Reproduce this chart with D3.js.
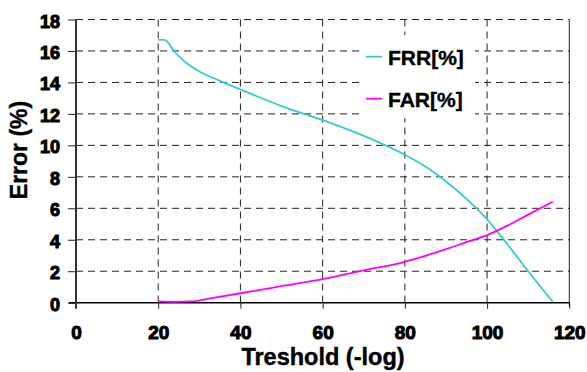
<!DOCTYPE html>
<html>
<head>
<meta charset="utf-8">
<script src="https://cdn.jsdelivr.net/npm/d3@7"></script>
<style>
  html, body { margin: 0; padding: 0; background: #fff; }
  svg { display: block; }
  svg text { font-family: "Liberation Sans", Arial, sans-serif; font-weight: bold; fill: #000; }
</style>
</head>
<body>
<svg id="chart" width="587" height="372"></svg>
<script>
// ---- data ----
const xTicks = [0, 20, 40, 60, 80, 100, 120];
const yTicks = [0, 2, 4, 6, 8, 10, 12, 14, 16, 18];
const frrX = [20, 21.5, 24, 27, 30, 35, 40, 50, 60, 70, 80, 85, 90, 95, 100, 105, 110, 116];
const frrY = [16.7, 16.7, 15.95, 15.2, 14.7, 14.1, 13.55, 12.5, 11.6, 10.6, 9.4, 8.65, 7.7, 6.6, 5.3, 3.7, 2.0, 0.05];
const farX = [20, 24, 28, 32, 40, 50, 60, 70, 80, 90, 95, 100, 105, 110, 116];
const farY = [0.08, 0.05, 0.08, 0.25, 0.6, 1.05, 1.5, 2.05, 2.6, 3.4, 3.85, 4.3, 4.9, 5.6, 6.42];
const seriesNames = ["FRR[%]", "FAR[%]"];
const seriesColors = ["#33CCCC", "#FF00FF"];
const xTitle = "Treshold (-log)";
const yTitle = "Error (%)";

// ---- layout ----
const svg = d3.select("#chart");
const L = 76, R = 569.3, T = 19.5, B = 302.7;
const x = d3.scaleLinear().domain([0, 120]).range([L, R]);
const y = d3.scaleLinear().domain([0, 18]).range([B, T]);

// gridlines
const grid = svg.append("g");
grid.selectAll("line.h").data(yTicks.filter(d => d > 0)).join("line")
  .attr("x1", L).attr("x2", R).attr("y1", d => y(d)).attr("y2", d => y(d))
  .attr("stroke", "#222").attr("stroke-width", 1).attr("stroke-dasharray", "7,5");
grid.selectAll("line.v").data(xTicks.filter(d => d > 0 && d < 120)).join("line")
  .attr("x1", d => x(d)).attr("x2", d => x(d)).attr("y1", T).attr("y2", B)
  .attr("stroke", "#222").attr("stroke-width", 1).attr("stroke-dasharray", "7,5");
// right border
svg.append("line").attr("x1", R).attr("x2", R).attr("y1", T).attr("y2", B + 4)
  .attr("stroke", "#222").attr("stroke-width", 1);

// legend box (white background)
svg.append("rect").attr("x", 363).attr("y", 35).attr("width", 112).attr("height", 83).attr("fill", "#fff");

// axes
const yAxis = d3.axisLeft(y).tickValues(yTicks).tickSize(8).tickPadding(8).tickSizeOuter(0);
const gy = svg.append("g").attr("transform", `translate(${L},0)`).call(yAxis);
gy.select(".domain").remove();
gy.selectAll(".tick line").attr("stroke", "#222");
gy.selectAll(".tick text").attr("dy", "0.42em")
  .attr("fill", "#000").attr("stroke", "#000").attr("stroke-width", 1)
  .style("font", "bold 18px 'Liberation Sans', Arial, sans-serif");

const xAxis = d3.axisBottom(x).tickValues(xTicks).tickSize(6).tickPadding(17).tickSizeOuter(0);
const gx = svg.append("g").attr("transform", `translate(0,${B})`).call(xAxis);
gx.select(".domain").remove();
gx.selectAll(".tick line").attr("stroke", "#222");
gx.selectAll(".tick text")
  .attr("fill", "#000").attr("stroke", "#000").attr("stroke-width", 1)
  .style("font", "bold 19px 'Liberation Sans', Arial, sans-serif");

// axis lines
svg.append("line").attr("x1", L - 7).attr("x2", R).attr("y1", B).attr("y2", B)
  .attr("stroke", "#000").attr("stroke-width", 1.5);
svg.append("line").attr("x1", L).attr("x2", L).attr("y1", T).attr("y2", B + 6)
  .attr("stroke", "#333").attr("stroke-width", 2);

// series
const line = d3.line().x(d => x(d[0])).y(d => y(d[1])).curve(d3.curveMonotoneX);
const frr = frrX.map((v, i) => [v, frrY[i]]);
const far = farX.map((v, i) => [v, farY[i]]);
svg.append("path").datum(frr).attr("d", line).attr("fill", "none")
  .attr("stroke", seriesColors[0]).attr("stroke-width", 1.8);
svg.append("path").datum(far).attr("d", line).attr("fill", "none")
  .attr("stroke", seriesColors[1]).attr("stroke-width", 1.8);

// legend
const legY = [56.7, 98.7];
seriesNames.forEach((n, i) => {
  svg.append("line").attr("x1", 366).attr("x2", 382).attr("y1", legY[i]).attr("y2", legY[i])
    .attr("stroke", seriesColors[i]).attr("stroke-width", 1.8);
  svg.append("text").attr("x", 388).attr("y", legY[i] + 8.5).attr("font-size", 21)
    .attr("stroke", "#000").attr("stroke-width", 0.4).text(n);
});

// titles
svg.append("text").attr("x", 323).attr("y", 365).attr("text-anchor", "middle")
  .attr("stroke", "#000").attr("stroke-width", 0.4)
  .attr("font-size", 23.5).text(xTitle);
svg.append("text").attr("transform", "translate(27,150) rotate(-90)").attr("text-anchor", "middle")
  .attr("stroke", "#000").attr("stroke-width", 0.4)
  .attr("font-size", 23).text(yTitle);
</script>
</body>
</html>
